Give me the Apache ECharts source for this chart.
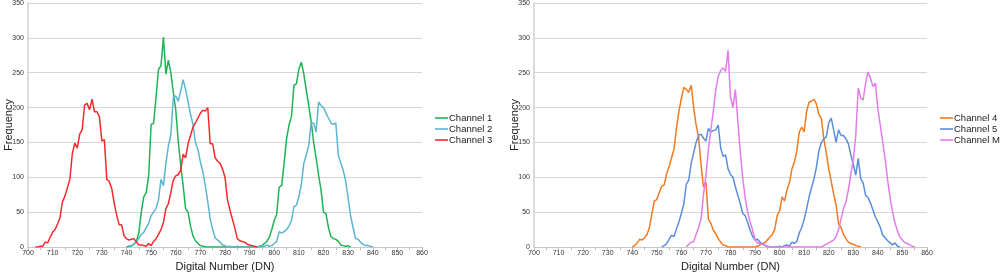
<!DOCTYPE html>
<html>
<head>
<meta charset="utf-8">
<script src="https://cdn.jsdelivr.net/npm/echarts@6/dist/echarts.min.js"></script>
<style>
  html, body { margin: 0; padding: 0; background: #fff; }
  #chart { width: 1000px; height: 273px; }
</style>
</head>
<body>
<div id="chart"></div>
<script>
// histogram counts per DN value, each channel starts at its own DN
var ch1Start = 740;
var ch1 = [
  0,1,2,4,8,20,50,72,78,102,
  176,177,215,255,260,301,248,268,250,222,
  197,152,118,88,55,50,30,16,9,5,
  2,1,0,0,0,0,0,0,0,0,
  0,0,0,0,0,0,0,0,0,0,
  0,0,0,0,1,2,5,8,14,25,
  38,47,86,88,120,155,175,187,232,234,
  255,265,248,225,203,180,150,128,103,82,
  50,48,28,15,12,11,8,3,2,1,
  2,0
];
var ch2Start = 741;
var ch2 = [
  0,1,4,7,12,18,21,28,34,
  45,50,55,68,97,88,120,145,160,214,
  217,209,224,240,226,208,190,176,150,140,
  122,108,88,65,40,25,13,10,7,3,
  2,0,1,0,0,1,0,0,0,0,
  0,0,0,0,0,0,1,3,1,2,
  5,8,22,20,22,25,30,38,58,60,
  72,90,120,132,145,178,178,165,208,203,
  200,192,185,178,176,178,132,121,110,95,
  70,45,28,12,11,7,4,2,2,1,
  0
];
var ch3Start = 703;
var ch3 = [
  0,0,1,1,7,6,14,
  21,25,33,42,65,73,85,97,134,149,
  142,162,168,204,206,197,212,194,194,187,
  152,154,97,94,84,63,46,32,32,16,
  12,10,11,12,7,3,3,2,1,5,
  2,8,12,18,25,35,55,62,78,96,
  102,104,110,133,128,148,160,172,178,185,
  192,196,195,200,148,148,128,123,120,112,
  100,68,53,40,27,12,9,8,7,4,
  3,2,1,0
];
var ch4Start = 740;
var ch4 = [
  0,2,6,11,10,13,18,28,48,66,
  68,78,87,89,105,115,128,140,170,195,
  213,229,226,222,232,200,175,158,118,86,
  93,40,34,24,19,12,7,3,2,0,
  0,0,0,0,0,0,0,0,0,0,
  0,1,3,5,6,10,14,18,25,45,
  52,72,66,82,92,112,122,138,165,172,
  165,195,208,209,212,205,190,184,155,135,
  112,94,76,60,33,28,18,12,7,5,
  4,2,1,0
];
var ch5Start = 752;
var ch5 = [
  0,2,5,11,17,15,26,36,
  48,62,90,96,120,135,150,160,162,156,
  152,170,165,167,168,175,142,130,132,112,
  104,100,86,74,62,48,45,35,24,15,
  10,11,7,4,2,1,0,0,0,0,
  1,0,2,3,1,7,5,8,20,28,
  40,55,72,85,98,115,138,150,155,158,
  178,185,168,150,168,160,160,155,148,132,
  118,103,127,98,92,74,71,63,53,43,
  36,28,17,13,9,6,3,6,1,0
];
var chMStart = 762;
var chM = [
  0,4,7,8,18,28,40,75,
  103,140,168,195,225,245,253,257,252,282,
  215,200,226,180,135,98,70,50,36,24,
  10,6,5,4,3,1,0,0,0,0,
  0,0,0,0,0,0,0,0,0,0,
  0,0,0,0,0,0,0,0,2,4,
  6,8,10,15,25,40,55,65,82,105,
  125,160,228,214,211,235,251,242,230,235,
  198,174,150,125,95,70,50,34,23,14,
  10,6,5,3,1,0
];

var names = ['Channel 1','Channel 2','Channel 3','Channel 4','Channel 5','Channel M'];
var colors = ['#1fb356','#5bb5d3','#f42a2d','#f27a1f','#5a8edc','#e47de8'];

function toPairs(start, arr){
	var out = [];
	for(var i = 0; i < arr.length; i++){
		out.push([start + i, arr[i]]);
	}
	return out;
}

var FONT = 'Liberation Sans, Arial, sans-serif';

function makeX(idx){
	return {
		type: 'value', gridIndex: idx,
		min: 700, max: 860, interval: 10,
		name: 'Digital Number (DN)', nameLocation: 'middle', nameGap: 14,
		nameTextStyle: { fontSize: 11, color: '#222', fontFamily: FONT },
		axisLine: { lineStyle: { color: '#c8c8c8', width: 1 } },
		axisTick: { show: true, length: 3, lineStyle: { color: '#bdbdbd' } },
		minorTick: { show: true, splitNumber: 2, length: 3, lineStyle: { color: '#bdbdbd' } },
		splitLine: { show: false },
		axisLabel: { fontSize: 7, color: '#333', margin: 3, fontFamily: FONT }
	};
}
function makeY(idx){
	return {
		type: 'value', gridIndex: idx,
		min: 0, max: 350, interval: 50,
		name: 'Frequency', nameLocation: 'middle', nameGap: 14, nameMoveOverlap: false,
		nameTextStyle: { fontSize: 11, color: '#222', fontFamily: FONT },
		axisLine: { show: true, lineStyle: { color: '#cfcfcf', width: 1.5 } },
		axisTick: { show: false },
		splitLine: { lineStyle: { color: '#d6d6d6', width: 1 } },
		axisLabel: { fontSize: 7, color: '#333', margin: 4, fontFamily: FONT }
	};
}
function makeLine(i, start, arr, axis){
	return {
		name: names[i], type: 'line',
		xAxisIndex: axis, yAxisIndex: axis,
		data: toPairs(start, arr),
		symbol: 'none',
		lineStyle: { width: 1.5, color: colors[i] },
		itemStyle: { color: colors[i] }
	};
}
function makeLegend(left, list){
	return {
		data: list, orient: 'vertical', left: left, top: 112.5,
		padding: 0,
		icon: 'rect',
		itemWidth: 13, itemHeight: 1.6, itemGap: 0,
		textStyle: { fontSize: 9.5, color: '#222', lineHeight: 11, fontFamily: FONT, overflow: 'none', padding: [0,0,0,-4] }
	};
}

var chart = echarts.init(document.getElementById('chart'), null, { renderer: 'canvas' });
var option = {
	animation: false,
	backgroundColor: '#fff',
	textStyle: { fontFamily: FONT },
	grid: [
		{ left: 28, top: 3, width: 394, height: 244, outerBoundsMode: 'none', containLabel: false },
		{ left: 534, top: 3, width: 393, height: 244, outerBoundsMode: 'none', containLabel: false }
	],
	xAxis: [makeX(0), makeX(1)],
	yAxis: [makeY(0), makeY(1)],
	legend: [
		makeLegend(435, names.slice(0,3)),
		makeLegend(940, names.slice(3))
	],
	series: [
		makeLine(0, ch1Start, ch1, 0),
		makeLine(1, ch2Start, ch2, 0),
		makeLine(2, ch3Start, ch3, 0),
		makeLine(3, ch4Start, ch4, 1),
		makeLine(4, ch5Start, ch5, 1),
		makeLine(5, chMStart, chM, 1)
	]
};
chart.setOption(option);
</script>
</body>
</html>
